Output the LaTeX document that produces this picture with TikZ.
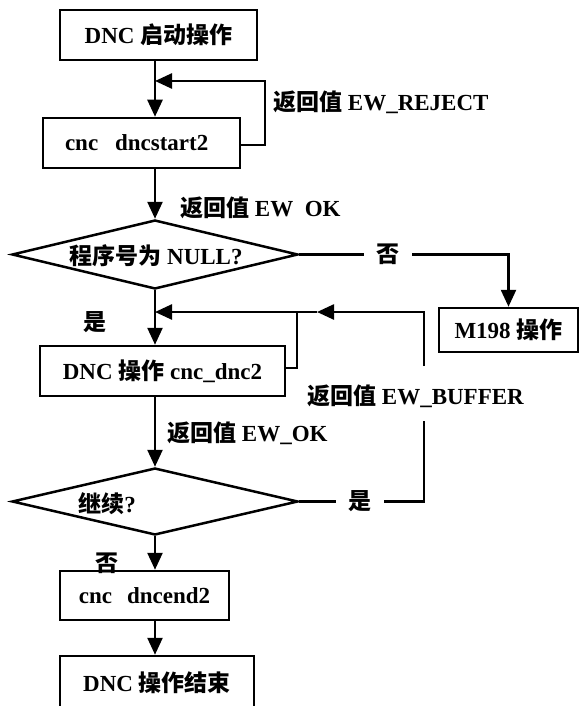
\documentclass[tikz,border=0pt]{standalone}
\usepackage{fontspec}
\setmainfont{Liberation Serif}
\newfontfamily\cjk{Noto Sans CJK SC}
\newcommand\zh[1]{{\cjk #1}}
\usetikzlibrary{arrows.meta,shapes.geometric}
\begin{document}
\begin{tikzpicture}[x=1pt,y=-1pt,
  every node/.style={font=\fontsize{23}{27}\selectfont\bfseries},
  box/.style={draw,line width=2.5pt,rectangle,inner sep=0pt},
  dia/.style={draw,line width=2.5pt,diamond,inner sep=0pt},
  txt/.style={inner sep=0pt},
  lbl/.style={inner xsep=12.5pt,inner ysep=0pt},
  ln/.style={line width=2.5pt},
  arr/.style={line width=2.5pt,-{Triangle[length=17pt,width=15pt]}}]
\useasboundingbox (0,0) rectangle (579,706);
\coordinate (mx) at (155,0);

\node[box,minimum width=197pt,minimum height=50pt] (b1) at (158.5,35) {DNC \zh{启动操作}};
\node[box,minimum width=197pt,minimum height=50pt,text width=153pt,inner xsep=22pt,align=left] (b2) at (141.5,143) {cnc\hspace{0.4em} dncstart2};
\draw[arr] (b1.south -| mx) -- (b2.north -| mx);
\coordinate (r1) at (265,145);
\coordinate (r2) at (265,81);
\draw[arr] (b2.east |- r1) -- (r1) -- (r2) -- (r2 -| mx);
\node[txt,anchor=west] (lrej) at (273,102) {\zh{返回值} EW\_REJECT};

\node[dia,minimum width=286pt,minimum height=69pt] (d1) at (155,254.5) {};
\node[txt] (d1t) at (156,256) {\zh{程序号为} NULL?};
\draw[arr] (b2.south -| mx) -- (d1.north);
\node[txt,anchor=west] (lok1) at (180,208) {\zh{返回值} EW\hspace{0.5em}OK};

\node[box,minimum width=139pt,minimum height=44pt] (m198) at (508.5,330) {M198 \zh{操作}};
\node[lbl] (tno1) at (388,254.5) {\zh{否}};
\coordinate (n2) at (m198.north |- d1.east);
\draw[ln] (d1.east) -- (tno1.west);
\draw[arr] (tno1.east) -- (n2) -- (m198.north);

\node[txt] (tyes1) at (95,322) {\zh{是}};
\node[box,minimum width=245pt,minimum height=50pt] (b3) at (162.5,371) {DNC \zh{操作} cnc\_dnc2};
\draw[arr] (d1.south) -- (b3.north -| mx);
\coordinate (f1) at (297,368);
\coordinate (f2) at (297,312);
\draw[ln] (b3.east |- f1) -- (f1) -- (f2);
\coordinate (g1) at (424,366);
\coordinate (g2) at (424,312);
\coordinate (gm) at (317,312);
\draw[arr] (g1) -- (g2) -- (gm);
\draw[arr] (gm) -- (gm -| mx);
\node[txt,anchor=west] (lbuf) at (307,396) {\zh{返回值} EW\_BUFFER};

\node[txt,anchor=west] (lok2) at (167,433) {\zh{返回值} EW\_OK};
\node[dia,minimum width=286pt,minimum height=67pt] (d2) at (155,501.5) {};
\node[txt] (d2t) at (107,504) {\zh{继续}?};
\draw[arr] (b3.south -| mx) -- (d2.north);
\coordinate (h1) at (424,421);
\coordinate (h2) at (424,501.5);
\node[lbl] (tyes2) at (360,501.5) {\zh{是}};
\draw[ln] (h1) -- (h2) -- (tyes2.east);
\draw[ln] (tyes2.west) -- (d2.east);

\node[txt] (tno2) at (107,563) {\zh{否}};
\node[box,minimum width=169pt,minimum height=49pt] (b4) at (144.5,595.5) {cnc\hspace{0.4em} dncend2};
\draw[arr] (d2.south) -- (b4.north -| mx);
\node[box,minimum width=194pt,minimum height=54pt] (b5) at (157,683) {DNC \zh{操作结束}};
\draw[arr] (b4.south -| mx) -- (b5.north -| mx);
\end{tikzpicture}
\end{document}
